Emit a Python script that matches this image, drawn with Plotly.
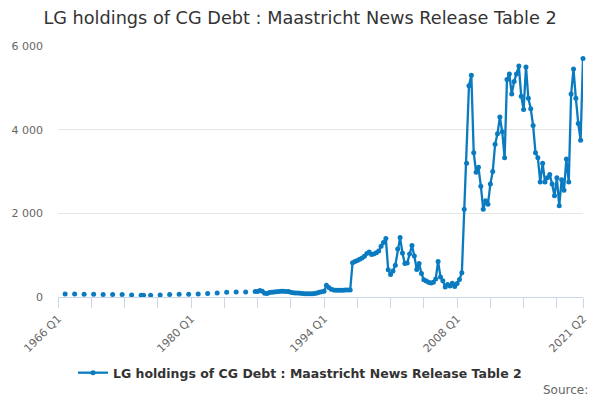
import plotly.graph_objects as go

# Annual observations (one per year, recorded at Q4) before quarterly series begins
annual_quarters = ['1966 Q4', '1967 Q4', '1968 Q4', '1969 Q4', '1970 Q4', '1971 Q4',
                   '1972 Q4', '1973 Q4', '1974 Q4', '1975 Q1', '1975 Q4', '1976 Q4',
                   '1977 Q4', '1978 Q4', '1979 Q4', '1980 Q4', '1981 Q4', '1982 Q4',
                   '1983 Q4', '1984 Q4', '1985 Q4', '1986 Q4']
annual_values = [73, 73, 65, 65, 57, 57, 57, 49, 41, 41, 41, 49,
                 57, 65, 65, 73, 81, 97, 113, 121, 121, 129]

# Quarterly observations from 1987 Q1 to 2021 Q2
quarterly_start = '1987 Q1'
quarterly_values = [
    130, 155, 137, 90, 85, 105, 113, 120, 125, 130,
    137, 137, 133, 130, 113, 100, 97, 95, 90, 85,
    80, 80, 80, 80, 85, 95, 115, 125, 137, 280,
    230, 185, 165, 160, 160, 160, 160, 165, 165, 170,
    820, 850, 870, 905, 930, 975, 1040, 1075, 1015, 1030,
    1055, 1100, 1215, 1300, 1400, 650, 540, 620, 760, 1150,
    1420, 1050, 800, 810, 1030, 1230, 980, 660, 800, 560,
    410, 380, 355, 335, 350, 430, 850, 480, 390, 240,
    300, 260, 330, 250, 320, 420, 580,
    2100, 3200, 5050, 5300, 3450, 2980, 3100, 2650, 2100, 2300,
    2220, 2700, 3000, 3650, 3900, 4300, 3950, 3330, 5200, 5330,
    4850, 5150, 5330, 5520, 4800, 4480, 5500, 4750, 4500, 4100,
    3450, 3330, 2750, 3200, 2750, 2850, 2930, 2700, 2420, 2850,
    2180, 2800, 2550, 3300, 2750, 4850, 5450, 4750, 4150, 3750,
    5700,
]

label_quarters = ['1966 Q1', '1980 Q1', '1994 Q1', '2008 Q1', '2021 Q2']
series_name = 'LG holdings of CG Debt : Maastricht News Release Table 2'

# full list of quarter categories 1966 Q1 .. 2021 Q2
quarters = [f'{y} Q{q}' for y in range(1966, 2022) for q in range(1, 5)]
quarters = quarters[:quarters.index('2021 Q2') + 1]

values = {q: None for q in quarters}
for q, v in zip(annual_quarters, annual_values):
    values[q] = v
start = quarters.index(quarterly_start)
for q, v in zip(quarters[start:], quarterly_values):
    values[q] = v

# ticks every 14 quarters plus the last one, labels only on some
tick_vals = quarters[::14] + [quarters[-1]]
tick_text = [q if q in label_quarters else '' for q in tick_vals]

blue = '#0a7bc1'

fig = go.Figure()
fig.add_trace(go.Scatter(
    x=quarters,
    y=[values[q] for q in quarters],
    mode='lines+markers',
    name=series_name,
    line=dict(color=blue, width=2.3),
    marker=dict(color=blue, size=5),
    connectgaps=False,
    cliponaxis=False
))

fig.update_layout(
    width=600,
    height=400,
    margin=dict(l=58, r=17, t=46, b=103),
    paper_bgcolor='white',
    plot_bgcolor='white',
    separators='. ',
    font=dict(family='DejaVu Sans, sans-serif', size=11, color='#666666'),
    title=dict(
        text='LG holdings of CG Debt : Maastricht News Release Table 2',
        x=0.461,
        xref='paper',
        xanchor='center',
        y=0.955,
        yanchor='middle',
        font=dict(family='DejaVu Sans, sans-serif', size=17.7, color='#333333')
    ),
    showlegend=True,
    legend=dict(
        orientation='h',
        x=0.461,
        xanchor='center',
        y=-0.303,
        yanchor='middle',
        font=dict(family='DejaVu Sans, sans-serif', size=12.5, color='#333333', weight='bold')
    ),
    xaxis=dict(
        type='category',
        categoryorder='array',
        categoryarray=quarters,
        range=[0, len(quarters) - 1],
        tickmode='array',
        tickvals=tick_vals,
        ticktext=tick_text,
        tickangle=-45,
        ticks='outside',
        ticklen=10,
        tickcolor='#ccd6eb',
        showline=True,
        linecolor='#ccd6eb',
        linewidth=1,
        showgrid=False,
        zeroline=False,
        automargin=False,
        tickfont=dict(size=11, color='#666666')
    ),
    yaxis=dict(
        range=[0, 6000],
        tickvals=[0, 2000, 4000, 6000],
        tickformat=',d',
        showgrid=True,
        gridcolor='#e6e6e6',
        zeroline=False,
        showline=False,
        automargin=False,
        ticklabelstandoff=14,
        tickfont=dict(size=11, color='#666666')
    ),
    annotations=[dict(
        text='Source:',
        xref='paper', yref='paper',
        x=1.013, y=-0.37,
        xanchor='right', yanchor='middle',
        showarrow=False,
        font=dict(family='DejaVu Sans, sans-serif', size=12, color='#666666')
    )]
)

# drop the default page margin so the chart sits at the window's corner
fig.write_html('out.html', config={'displayModeBar': False},
               post_script="document.body.style.margin='0';")
